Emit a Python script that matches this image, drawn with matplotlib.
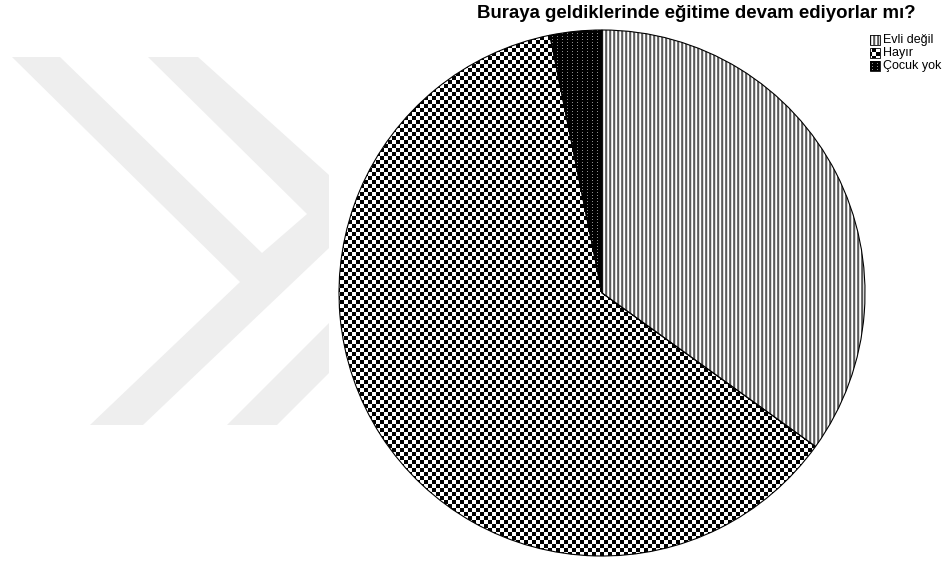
import numpy as np
import matplotlib
matplotlib.use('Agg')
import matplotlib.pyplot as plt
from matplotlib.patches import Polygon, Rectangle

plt.rcParams['font.family'] = ['Liberation Sans', 'DejaVu Sans']

W, H = 944, 563

# ── Data ──────────────────────────────────────────────────────────────────────
labels = ['Evli değil', 'Hayır', 'Çocuk yok']
counts = [22, 39, 2]
title = 'Buraya geldiklerinde eğitime devam ediyorlar mı?'

# ── Fill textures (pixel grid, row 0 = top) ──────────────────────────────────
yy, xx = np.mgrid[0:H, 0:W]
stripe_lut = np.array([1.0, 0.45, 0.35, 0.85])
tex_stripes = stripe_lut[xx % 4]
tex_checker = ((xx // 4 + yy // 4) % 2).astype(float)
tex_dots = np.where((xx % 5 == 2) & (yy % 3 == 0), 0.55, 0.0)
textures = [tex_stripes, tex_checker, tex_dots]


def flip(pts):
    return [(x, H - y) for x, y in pts]


def textured(ax, patch, tex, z):
    rgb = np.dstack([tex, tex, tex])
    im = ax.imshow(rgb, extent=(0, W, 0, H), origin='upper',
                   interpolation='nearest', interpolation_stage='rgba', zorder=z)
    im.set_clip_path(patch)
    return im


fig = plt.figure(figsize=(W / 100, H / 100), dpi=100)
ax = fig.add_axes([0, 0, 1, 1])

# ── background watermark (light chevrons, left side) ─────────────────────────
wm = '#eeeeee'
main_shape = [(12, 57), (60, 57), (262, 253), (307, 214), (148, 57), (198, 57),
              (329, 175), (329, 248), (143, 425), (90, 425), (240, 282)]
lower_band = [(227, 425), (277, 425), (329, 373), (329, 323)]
for shp in (main_shape, lower_band):
    ax.add_patch(Polygon(flip(shp), closed=True, facecolor=wm, edgecolor='none', zorder=0))

# ── pie ───────────────────────────────────────────────────────────────────────
wedges, _ = ax.pie(counts, center=(602, H - 293), radius=263, startangle=90,
                   counterclock=False,
                   wedgeprops=dict(edgecolor='black', linewidth=0.8))
for w, tex in zip(wedges, textures):
    textured(ax, w, tex, 1)
    w.set_facecolor('none')
    w.set_zorder(2)

# ── legend (drawn by hand so the textures match) ─────────────────────────────
for i, (lab, tex) in enumerate(zip(labels, textures)):
    y0 = 35 + i * 13
    rect = Rectangle((870, H - y0 - 10), 10, 10, facecolor='none',
                     edgecolor='black', lw=0.6, zorder=4)
    ax.add_patch(rect)
    textured(ax, rect, tex, 3)
    ax.text(883, H - y0 - 5, lab, fontsize=9, va='center', ha='left')

ax.text(696, H - 13, title, fontsize=13.4, fontweight='bold', ha='center', va='center')

ax.set_xlim(0, W)
ax.set_ylim(0, H)
ax.set_aspect('equal')
ax.set_axis_off()

fig.savefig('out.png', dpi=100)
